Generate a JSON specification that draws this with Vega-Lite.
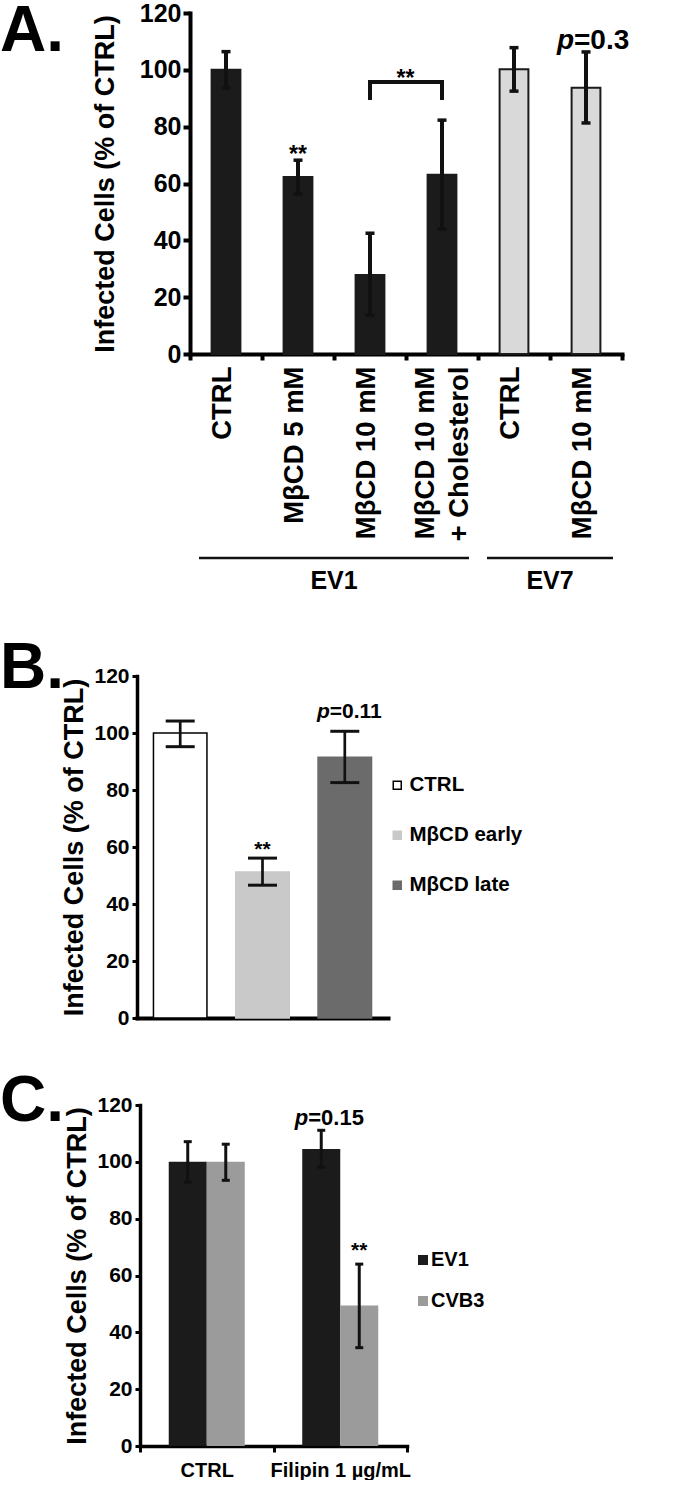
{
  "$schema": "https://vega.github.io/schema/vega-lite/v6.json",
  "padding": 0,
  "background": "white",
  "columns": 1,
  "spacing": 42,
  "resolve": {
    "scale": {"color": "independent", "fill": "independent", "stroke": "independent"},
    "legend": {"color": "independent", "fill": "independent", "stroke": "independent"}
  },
  "config": {
    "font": "Liberation Sans",
    "view": {"stroke": null},
    "axis": {"domainColor": "black", "tickColor": "black", "labelColor": "black", "titleColor": "black", "labelFontWeight": "bold", "titleFontWeight": "bold", "grid": false, "domainCap": "square"},
    "text": {"fontWeight": "bold", "color": "black", "baseline": "alphabetic"},
    "legend": {"labelFontWeight": "bold", "labelColor": "black", "title": null}
  },
  "concat": [
    {
      "width": 485,
      "height": 341,
      "title": {"text": "A.", "anchor": "start", "frame": "group", "orient": "top", "fontSize": 64, "fontWeight": "bold", "baseline": "alphabetic", "offset": -114, "dx": -137, "color": "black"},
      "data": {"values": [
        {"key": "EV1: CTRL", "grp": "EV1", "v": 100, "lo": 93.6, "hi": 106.4},
        {"key": "EV1: MβCD 5 mM", "grp": "EV1", "v": 62.3, "lo": 56.3, "hi": 68.2},
        {"key": "EV1: MβCD 10 mM", "grp": "EV1", "v": 27.8, "lo": 13.6, "hi": 42.5},
        {"key": "EV1: MβCD 10 mM|+ Cholesterol", "grp": "EV1", "v": 63.1, "lo": 44.0, "hi": 82.3},
        {"key": "EV7: CTRL", "grp": "EV7", "v": 100.2, "lo": 92.5, "hi": 107.8},
        {"key": "EV7: MβCD 10 mM", "grp": "EV7", "v": 93.7, "lo": 81.3, "hi": 106.3}
      ]},
      "encoding": {
        "x": {
          "field": "key", "type": "nominal", "sort": null,
          "scale": {"domain": ["EV1: CTRL", "EV1: MβCD 5 mM", "EV1: MβCD 10 mM", "EV1: MβCD 10 mM|+ Cholesterol", "EV7: CTRL", "EV7: MβCD 10 mM"], "range": [53, 485], "paddingInner": 0, "paddingOuter": 0},
          "axis": {"title": null, "labelAngle": -90, "labelAlign": "right", "labelBaseline": "middle", "labelExpr": "datum.value ? split(split(datum.value, ': ')[1], '|') : ''", "labelFontSize": 27.5, "labelLineHeight": 34, "labelPadding": 6, "labelLimit": 400,
            "labelOffset": {"condition": {"test": "datum.value && indexof(datum.value, '|') >= 0", "value": -17}, "value": -4},
            "tickBand": "extent", "tickSize": 6, "tickWidth": 4, "domainWidth": 4}
        }
      },
      "layer": [
        {
          "mark": {"type": "bar", "width": {"band": 0.4}, "stroke": "#1b1b1b", "strokeWidth": 2},
          "encoding": {
            "y": {"field": "v", "type": "quantitative", "scale": {"domain": [0, 120], "nice": false},
              "axis": {"title": "Infected Cells (% of CTRL)", "titleFontSize": 27, "titlePadding": 20, "labelFontSize": 25, "labelPadding": 2, "tickSize": 7, "tickWidth": 4, "domainWidth": 4, "offset": -53, "values": [0, 20, 40, 60, 80, 100, 120]}},
            "color": {"field": "grp", "type": "nominal", "scale": {"domain": ["EV1", "EV7"], "range": ["#1b1b1b", "#d9d9d9"]}, "legend": null}
          }
        },
        {
          "mark": {"type": "rule", "strokeWidth": 4, "color": "#111111"},
          "encoding": {"y": {"field": "lo", "type": "quantitative"}, "y2": {"field": "hi"}}
        },
        {
          "mark": {"type": "tick", "size": 9, "thickness": 3.5, "color": "#111111", "opacity": 1},
          "encoding": {"y": {"field": "lo", "type": "quantitative"}}
        },
        {
          "mark": {"type": "tick", "size": 9, "thickness": 3.5, "color": "#111111", "opacity": 1},
          "encoding": {"y": {"field": "hi", "type": "quantitative"}}
        },
        {
          "data": {"values": [
            {"key": "EV1: MβCD 10 mM", "y": 89.4, "o": 1},
            {"key": "EV1: MβCD 10 mM", "y": 95.7, "o": 2},
            {"key": "EV1: MβCD 10 mM|+ Cholesterol", "y": 95.7, "o": 3},
            {"key": "EV1: MβCD 10 mM|+ Cholesterol", "y": 89.4, "o": 4}
          ]},
          "mark": {"type": "line", "strokeWidth": 4, "color": "#111111", "strokeJoin": "miter"},
          "encoding": {"y": {"field": "y", "type": "quantitative"}, "order": {"field": "o"}}
        },
        {
          "data": {"values": [{"key": "EV1: MβCD 5 mM", "y": 67.5, "t": "**"}]},
          "mark": {"type": "text", "fontSize": 23},
          "encoding": {"y": {"field": "y", "type": "quantitative"}, "text": {"field": "t"}}
        },
        {
          "data": {"values": [{"key": "EV1: MβCD 10 mM", "y": 94.2, "t": "**"}]},
          "mark": {"type": "text", "fontSize": 23, "dx": 35.5},
          "encoding": {"y": {"field": "y", "type": "quantitative"}, "text": {"field": "t"}}
        },
        {
          "data": {"values": [{"key": "EV7: MβCD 10 mM", "y": 107.3, "t": "p"}]},
          "mark": {"type": "text", "fontSize": 28, "fontStyle": "italic", "align": "right", "dx": -12},
          "encoding": {"y": {"field": "y", "type": "quantitative"}, "text": {"field": "t"}}
        },
        {
          "data": {"values": [{"key": "EV7: MβCD 10 mM", "y": 107.3, "t": "=0.3"}]},
          "mark": {"type": "text", "fontSize": 28, "align": "left", "dx": -12},
          "encoding": {"y": {"field": "y", "type": "quantitative"}, "text": {"field": "t"}}
        },
        {
          "data": {"values": [
            {"s": "EV1: CTRL", "e": "EV1: MβCD 10 mM|+ Cholesterol", "y": -71.8},
            {"s": "EV7: CTRL", "e": "EV7: MβCD 10 mM", "y": -71.8}
          ]},
          "mark": {"type": "rule", "strokeWidth": 2.5, "color": "#111111", "xOffset": -27, "x2Offset": 27},
          "encoding": {"x": {"field": "s", "type": "nominal"}, "x2": {"field": "e"}, "y": {"field": "y", "type": "quantitative"}}
        },
        {
          "data": {"values": [
            {"a": "EV1: MβCD 5 mM", "y": -82.7, "t": "EV1"},
            {"a": "EV7: CTRL", "y": -82.7, "t": "EV7"}
          ]},
          "mark": {"type": "text", "fontSize": 25, "dx": 36},
          "encoding": {"x": {"field": "a", "type": "nominal"}, "y": {"field": "y", "type": "quantitative"}, "text": {"field": "t"}}
        }
      ]
    },
    {
      "width": 251,
      "height": 342,
      "title": {"text": "B.", "anchor": "start", "frame": "group", "orient": "top", "fontSize": 64, "fontWeight": "bold", "baseline": "alphabetic", "offset": -87, "dx": -137, "color": "black"},
      "data": {"values": [
        {"cond": "CTRL", "v": 100, "lo": 95.2, "hi": 104.2},
        {"cond": "MβCD early", "v": 51.2, "lo": 46.6, "hi": 56.1},
        {"cond": "MβCD late", "v": 91.5, "lo": 82.6, "hi": 100.6}
      ]},
      "encoding": {
        "x": {"field": "cond", "type": "nominal", "sort": null, "scale": {"paddingInner": 0.35, "paddingOuter": 0.2}, "axis": {"title": null, "labels": false, "ticks": false, "domainWidth": 4}}
      },
      "layer": [
        {
          "mark": {"type": "bar", "strokeWidth": 1.5},
          "encoding": {
            "y": {"field": "v", "type": "quantitative", "scale": {"domain": [0, 120], "nice": false},
              "axis": {"title": "Infected Cells (% of CTRL)", "titleFontSize": 27, "titlePadding": 5, "labelFontSize": 21, "labelPadding": 3, "tickSize": 5, "tickWidth": 3, "domainWidth": 3.5, "values": [0, 20, 40, 60, 80, 100, 120]}},
            "fill": {"field": "cond", "type": "nominal", "scale": {"domain": ["CTRL", "MβCD early", "MβCD late"], "range": ["#ffffff", "#c9c9c9", "#6b6b6b"]},
              "legend": {"orient": "none", "legendX": 250, "legendY": 99, "symbolType": "square", "symbolSize": 64, "symbolStrokeWidth": 1.5, "labelFontSize": 20.5, "labelOffset": 2, "rowPadding": 29, "padding": 0}},
            "stroke": {"field": "cond", "type": "nominal", "scale": {"domain": ["CTRL", "MβCD early", "MβCD late"], "range": ["#000000", "#c9c9c9", "#6b6b6b"]},
              "legend": {"orient": "none", "legendX": 250, "legendY": 99, "symbolType": "square", "symbolSize": 64, "symbolStrokeWidth": 1.5, "labelFontSize": 20.5, "labelOffset": 2, "rowPadding": 29, "padding": 0}}
          }
        },
        {
          "mark": {"type": "rule", "strokeWidth": 2.7, "color": "#111111"},
          "encoding": {"y": {"field": "lo", "type": "quantitative"}, "y2": {"field": "hi"}}
        },
        {
          "mark": {"type": "tick", "size": 29, "thickness": 3, "color": "#111111", "opacity": 1},
          "encoding": {"y": {"field": "lo", "type": "quantitative"}}
        },
        {
          "mark": {"type": "tick", "size": 29, "thickness": 3, "color": "#111111", "opacity": 1},
          "encoding": {"y": {"field": "hi", "type": "quantitative"}}
        },
        {
          "data": {"values": [{"cond": "MβCD early", "y": 57, "t": "**"}]},
          "mark": {"type": "text", "fontSize": 21},
          "encoding": {"y": {"field": "y", "type": "quantitative"}, "text": {"field": "t"}}
        },
        {
          "data": {"values": [{"cond": "MβCD late", "y": 105.3, "t": "p"}]},
          "mark": {"type": "text", "fontSize": 21, "fontStyle": "italic", "align": "right", "dx": -15},
          "encoding": {"y": {"field": "y", "type": "quantitative"}, "text": {"field": "t"}}
        },
        {
          "data": {"values": [{"cond": "MβCD late", "y": 105.3, "t": "=0.11"}]},
          "mark": {"type": "text", "fontSize": 21, "align": "left", "dx": -15},
          "encoding": {"y": {"field": "y", "type": "quantitative"}, "text": {"field": "t"}}
        }
      ]
    },
    {
      "width": 270,
      "height": 341,
      "title": {"text": "C.", "anchor": "start", "frame": "group", "orient": "top", "fontSize": 64, "fontWeight": "bold", "baseline": "alphabetic", "offset": -91, "dx": -137, "color": "black"},
      "data": {"values": [
        {"cond": "CTRL", "virus": "EV1", "v": 100, "lo": 92.8, "hi": 107.1},
        {"cond": "CTRL", "virus": "CVB3", "v": 100, "lo": 93.5, "hi": 106.2},
        {"cond": "Filipin 1 µg/mL", "virus": "EV1", "v": 104.5, "lo": 98.1, "hi": 111.1},
        {"cond": "Filipin 1 µg/mL", "virus": "CVB3", "v": 49.4, "lo": 34.6, "hi": 64.0}
      ]},
      "encoding": {
        "x": {"field": "cond", "type": "nominal", "sort": null, "scale": {"range": [3, 270], "paddingInner": 0, "paddingOuter": 0},
          "axis": {"title": null, "labelAngle": 0, "labelFontSize": 20, "labelPadding": 8, "tickBand": "extent", "tickSize": 6, "tickWidth": 3, "domainWidth": 3.5}},
        "xOffset": {"field": "virus", "type": "nominal", "sort": ["EV1", "CVB3"], "scale": {"paddingOuter": 0.756, "paddingInner": 0}}
      },
      "layer": [
        {
          "mark": {"type": "bar"},
          "encoding": {
            "y": {"field": "v", "type": "quantitative", "scale": {"domain": [0, 120], "nice": false},
              "axis": {"title": "Infected Cells (% of CTRL)", "titleFontSize": 27, "titlePadding": 5, "labelFontSize": 21, "labelPadding": 3, "tickSize": 5, "tickWidth": 3, "domainWidth": 3.5, "offset": -3, "values": [0, 20, 40, 60, 80, 100, 120]}},
            "color": {"field": "virus", "type": "nominal", "sort": ["EV1", "CVB3"], "scale": {"domain": ["EV1", "CVB3"], "range": ["#1b1b1b", "#9b9b9b"]},
              "legend": {"orient": "none", "legendX": 276, "legendY": 145, "symbolType": "square", "symbolSize": 100, "labelFontSize": 20, "labelOffset": -2, "rowPadding": 21, "padding": 0}}
          }
        },
        {
          "mark": {"type": "rule", "strokeWidth": 3, "color": "#111111"},
          "encoding": {"y": {"field": "lo", "type": "quantitative"}, "y2": {"field": "hi"}}
        },
        {
          "mark": {"type": "tick", "size": 8, "thickness": 3, "color": "#111111", "opacity": 1},
          "encoding": {"y": {"field": "lo", "type": "quantitative"}}
        },
        {
          "mark": {"type": "tick", "size": 8, "thickness": 3, "color": "#111111", "opacity": 1},
          "encoding": {"y": {"field": "hi", "type": "quantitative"}}
        },
        {
          "data": {"values": [{"cond": "Filipin 1 µg/mL", "virus": "CVB3", "y": 66.4, "t": "**"}]},
          "mark": {"type": "text", "fontSize": 21},
          "encoding": {"y": {"field": "y", "type": "quantitative"}, "text": {"field": "t"}}
        },
        {
          "data": {"values": [{"cond": "Filipin 1 µg/mL", "virus": "EV1", "y": 112.8, "t": "p"}]},
          "mark": {"type": "text", "fontSize": 22, "fontStyle": "italic", "align": "right", "dx": -13},
          "encoding": {"y": {"field": "y", "type": "quantitative"}, "text": {"field": "t"}}
        },
        {
          "data": {"values": [{"cond": "Filipin 1 µg/mL", "virus": "EV1", "y": 112.8, "t": "=0.15"}]},
          "mark": {"type": "text", "fontSize": 22, "align": "left", "dx": -13},
          "encoding": {"y": {"field": "y", "type": "quantitative"}, "text": {"field": "t"}}
        }
      ]
    }
  ]
}
